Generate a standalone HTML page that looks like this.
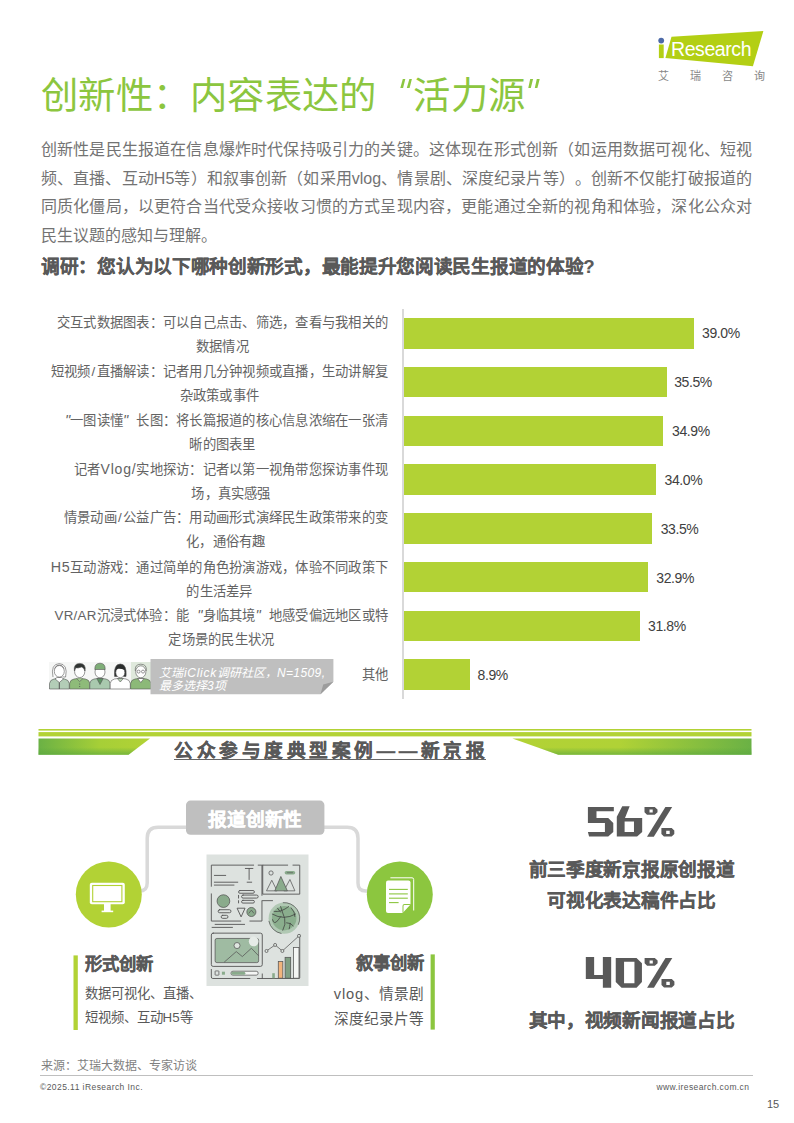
<!DOCTYPE html>
<html lang="zh-CN"><head><meta charset="utf-8">
<style>
*{margin:0;padding:0;box-sizing:border-box}
html,body{width:794px;height:1123px;background:#fff;overflow:hidden}
body{position:relative;font-family:"Liberation Sans",sans-serif;color:#595959;text-spacing-trim:space-all}
.a{position:absolute;white-space:nowrap}
.b{-webkit-text-stroke:0.28px currentColor}
#title{left:41px;top:68px;font-size:37.33px;line-height:56px;color:#8cc63f;letter-spacing:0.25px}
.para{left:41px;width:711px;font-size:16px;line-height:20px;color:#737373;text-align:justify;text-align-last:justify}
#sub{left:41px;top:254.7px;letter-spacing:-0.3px;font-size:18.67px;line-height:24px;font-weight:bold;color:#595959;-webkit-text-stroke-width:0.15px}
.lbl{right:406px;font-size:13.33px;letter-spacing:0.24px;line-height:24px;color:#636363;text-align:center}
.bar{position:absolute;left:403.6px;height:30.6px;background:#b2d235}
.val{font-size:14px;line-height:16px;color:#404040;letter-spacing:-0.4px}
.sl{padding:0 1.2px}
.ql{display:inline-block;width:1em;text-align:right;letter-spacing:0}
.qr{display:inline-block;width:1em;text-align:left;letter-spacing:0}
.ql i,.qr i{font-size:1.1em;line-height:0}
</style></head><body>

<div id="title" class="a">创新性：内容表达的<span style="display:inline-block;width:37.2px"></span>活力源</div>
<svg class="a" style="left:0;top:0" width="600" height="100"><g fill="#8cc63f"><polygon points="402.8,78.9 405.3,78.9 403.1,87.9 400.3,87.9"/><polygon points="409.4,78.9 411.9,78.9 409.6,87.9 406.8,87.9"/><polygon points="530.2,78.9 533.1,78.9 530.8,87.9 528.3,87.9"/><polygon points="536.8,78.9 539.7,78.9 537.4,87.9 534.8,87.9"/></g></svg>

<div class="a para" style="top:140.3px">创新性是民生报道在信息爆炸时代保持吸引力的关键。这体现在形式创新（如运用数据可视化、短视</div>
<div class="a para" style="top:169px">频、直播、互动H5等）和叙事创新（如采用vlog、情景剧、深度纪录片等）。创新不仅能打破报道的</div>
<div class="a para" style="top:197.2px">同质化僵局，以更符合当代受众接收习惯的方式呈现内容，更能通过全新的视角和体验，深化公众对</div>
<div class="a" style="left:41px;top:225.8px;font-size:16px;line-height:20px;color:#737373">民生议题的感知与理解。</div>

<div id="sub" class="a b">调研：您认为以下哪种创新形式，最能提升您阅读民生报道的体验?</div>

<!-- chart -->
<div class="a" style="left:402.4px;top:309px;width:1.2px;height:390px;background:#d9d9d9"></div>
<div class="bar" style="top:318.2px;width:290px"></div>
<div class="bar" style="top:366.9px;width:263.5px"></div>
<div class="bar" style="top:415.6px;width:259.2px"></div>
<div class="bar" style="top:464.3px;width:252.3px"></div>
<div class="bar" style="top:513px;width:248.5px"></div>
<div class="bar" style="top:561.8px;width:244.1px"></div>
<div class="bar" style="top:610.5px;width:236px"></div>
<div class="bar" style="top:659.2px;width:66.3px"></div>

<div class="a val" style="left:702px;top:325px">39.0%</div>
<div class="a val" style="left:674.2px;top:374px">35.5%</div>
<div class="a val" style="left:672px;top:423px">34.9%</div>
<div class="a val" style="left:664.5px;top:472px">34.0%</div>
<div class="a val" style="left:660.7px;top:520.5px">33.5%</div>
<div class="a val" style="left:656.3px;top:569.5px">32.9%</div>
<div class="a val" style="left:648px;top:618px">31.8%</div>
<div class="a val" style="left:477.5px;top:667px">8.9%</div>

<div class="a lbl" style="top:310.7px">交互式数据图表：可以自己点击、筛选，查看与我相关的<br>数据情况</div>
<div class="a lbl" style="top:359.6px">短视频<span class="sl">/</span>直播解读：记者用几分钟视频或直播，生动讲解复<br>杂政策或事件</div>
<div class="a lbl" style="top:408.5px"><span class="ql"><i>"</i></span>一图读懂<span class="qr"><i>"</i></span>长图：将长篇报道的核心信息浓缩在一张清<br>晰的图表里</div>
<div class="a lbl" style="top:457.3px">记者<span style="font-size:14px;letter-spacing:0.8px">Vlog/</span>实地探访：记者以第一视角带您探访事件现<br>场，真实感强</div>
<div class="a lbl" style="top:506.2px">情景动画<span class="sl">/</span>公益广告：用动画形式演绎民生政策带来的变<br>化，通俗有趣</div>
<div class="a lbl" style="top:555px"><span style="font-size:14.3px;letter-spacing:0.6px">H5</span>互动游戏：通过简单的角色扮演游戏，体验不同政策下<br>的生活差异</div>
<div class="a lbl" style="top:603.9px">VR/AR沉浸式体验：能<span class="ql"><i>"</i></span>身临其境<span class="qr"><i>"</i></span>地感受偏远地区或特<br>定场景的民生状况</div>
<div class="a lbl" style="top:663px">其他</div>



<!-- people + callout -->
<svg class="a" style="left:44px;top:655px" width="300" height="45" viewBox="44 655 300 45">
<rect x="49" y="662" width="102" height="27" fill="#f6f7f6"/>
<rect x="131" y="662" width="20" height="27" fill="#dfe9dc"/>
<g stroke="#555" stroke-width="0.6">
<!-- p1 old woman -->
<path d="M49.5,689 V683.5 Q50,679.8 54,679 L59.3,678.2 L64.6,679 Q68.8,679.8 69.3,683.5 V689 Z" fill="#b3cdb7"/>
<path d="M55,678.8 L59.3,682.5 L63.6,678.8 L61.5,677.5 L57.1,677.5 Z" fill="#fff"/>
<line x1="59.3" y1="682.5" x2="59.3" y2="689" stroke-width="1"/>
<path d="M53,677 Q50.5,664 59.3,663.6 Q68.1,664 65.6,677 Q63.5,677.5 62.5,676" fill="#fff"/>
<ellipse cx="59.3" cy="671.3" rx="5" ry="5.8" fill="#fff"/>
<path d="M54.5,668.5 Q56,665 59.3,665 Q62.6,665 64.1,668.5" fill="none"/>
<!-- p2 man -->
<path d="M69.6,689 V683.5 Q70,679.8 74,679 L79.7,678.2 L85.4,679 Q89.4,679.8 89.8,683.5 V689 Z" fill="#8ebb79"/>
<path d="M76.5,678.5 L79.7,681.5 L82.9,678.5" fill="#a5cc92"/>
<g fill="#555" stroke="none"><circle cx="79.7" cy="684" r="0.6"/><circle cx="79.7" cy="686.5" r="0.6"/></g>
<ellipse cx="79.7" cy="671.6" rx="5.1" ry="6" fill="#fff"/>
<path d="M74.4,671 Q73.2,663.6 79.7,663.4 Q86.4,663.6 85,671 Q84,667.5 81.5,667 Q78,668.5 75.5,667.8 Z" fill="#2f3432"/>
<!-- p3 cap man -->
<path d="M89.8,689 V683.5 Q90.2,679.8 94,679 L100,678.2 L106,679 Q109.8,679.8 110.2,683.5 V689 Z" fill="#a9c9ae"/>
<path d="M96.8,678.5 L100,684.5 L103.2,678.5 Z" fill="#5f9466"/>
<ellipse cx="100" cy="672" rx="5" ry="5.8" fill="#fff"/>
<path d="M94.8,669.5 Q94.6,663.2 100,663.2 Q105.4,663.2 105.2,669.5 Z" fill="#7fae78"/>
<!-- p4 woman doctor -->
<path d="M110.2,689 V683.5 Q110.6,679.8 114.5,679 L120.3,678.2 L126,679 Q129.9,679.8 130.3,683.5 V689 Z" fill="#fff"/>
<path d="M117.3,678.5 L120.3,682 L123.3,678.5 Z" fill="#b7d3b4"/>
<path d="M114.6,676.5 Q113.5,664 120.3,664 Q127.1,664 126,676.5 Z" fill="#2a2d2c"/>
<ellipse cx="120.3" cy="672.5" rx="4.5" ry="5.2" fill="#fff"/>
<path d="M115.6,670 Q116.5,665.8 120.3,665.8 Q124.1,665.8 125,670 Q121,668.5 118,668.8 Z" fill="#2a2d2c" stroke="none"/>
<!-- p5 old man -->
<path d="M130.6,689 V683.5 Q131,679.8 135,679 L140.8,678.2 L146.6,679 Q150.6,679.8 151,683.5 V689 Z" fill="#8cb978"/>
<path d="M137.6,678.5 L140.8,682.5 L144,678.5 Z" fill="#fff"/>
<ellipse cx="140.8" cy="671.8" rx="5.1" ry="6" fill="#fff"/>
<path d="M135.3,671 Q134.5,664.2 140.8,664.2 Q147.1,664.2 146.3,671" fill="none"/>
<circle cx="138.6" cy="671.6" r="1.5" fill="none"/><circle cx="143" cy="671.6" r="1.5" fill="none"/>
</g>
<polygon points="150.5,659 333.4,659 333.4,681.7 320.5,694.3 150.5,694.3" fill="#bfbfbf"/>
<polygon points="333.4,681.7 323.2,684.5 320.5,694.3" fill="#9c9c9c"/>
</svg>
<div class="a" style="left:159px;top:666.5px;font-size:12px;line-height:13.3px;color:#fff;font-style:italic">艾瑞<span style="letter-spacing:0.7px;margin-left:1px">iClick</span>调研社区，<span style="letter-spacing:0.4px">N=1509,</span><br>最多选择3项</div>

<!-- logo -->
<svg class="a" style="left:0;top:0" width="794" height="100" viewBox="0 0 794 100">
<circle cx="661.2" cy="40.6" r="2.9" fill="#4d6aa8"/>
<rect x="658.9" y="44.5" width="4.8" height="13.6" fill="#b3cf14"/>
<polygon points="671.5,36.8 763.4,30.9 752.9,66.2 665.4,57.9" fill="#b3cf14"/>
<text x="671" y="55.8" font-family="Liberation Sans" font-size="19.5" fill="#fff" letter-spacing="-0.42">Research</text>
</svg>
<div class="a" style="left:658px;top:69px;font-size:11px;line-height:14px;color:#888;letter-spacing:20.9px">艾瑞咨询</div>

<!-- banner -->
<svg class="a" style="left:0;top:720px" width="794" height="50" viewBox="0 720 794 50">
<defs>
<linearGradient id="gl" x1="38" y1="0" x2="150" y2="0" gradientUnits="userSpaceOnUse">
<stop offset="0" stop-color="#6ab145"/><stop offset="0.55" stop-color="#a6cf37"/><stop offset="1" stop-color="#b2d235"/></linearGradient>
<linearGradient id="gr" x1="512" y1="0" x2="752" y2="0" gradientUnits="userSpaceOnUse">
<stop offset="0" stop-color="#b2d235"/><stop offset="0.45" stop-color="#b0d236"/><stop offset="1" stop-color="#6ab145"/></linearGradient>
<linearGradient id="gv" x1="0" y1="738" x2="0" y2="755" gradientUnits="userSpaceOnUse">
<stop offset="0" stop-color="#5aa83f" stop-opacity="0"/><stop offset="0.55" stop-color="#5aa83f" stop-opacity="0"/><stop offset="1" stop-color="#5aa83f" stop-opacity="0.7"/></linearGradient>
</defs>
<rect x="38.5" y="729" width="713" height="1.6" fill="#b2d235"/>
<rect x="38.5" y="732.1" width="713" height="4.3" fill="#b2d235"/>
<polygon points="38.5,738.4 150,738.4 128.5,754.8 38.5,754.8" fill="url(#gl)"/>
<polygon points="38.5,738.4 150,738.4 128.5,754.8 38.5,754.8" fill="url(#gv)"/>
<polygon points="512.4,738.5 751.5,738.5 751.5,754.7 558.3,754.7" fill="url(#gr)"/>
<polygon points="512.4,738.5 751.5,738.5 751.5,754.7 558.3,754.7" fill="url(#gv)"/>
</svg>
<div class="a b" style="left:174px;top:738.5px;font-size:18.67px;line-height:24px;font-weight:bold;color:#595959;letter-spacing:3.5px">公众参与度典型案例——新京报</div>
<div class="a" style="left:174px;top:759.1px;width:311.7px;height:1.3px;background:#666"></div>

<!-- bottom diagram -->
<svg class="a" style="left:0;top:790px" width="794" height="260" viewBox="0 790 794 260">
<path d="M186,827.2 H158.2 Q147.2,827.2 147.2,838.2 V883 Q147.2,891 139.5,891" fill="none" stroke="#d9d9d9" stroke-width="3.5"/>
<path d="M324,827.2 H347 Q358,827.2 358,838.2 V883 Q358,891 365.7,891 H368" fill="none" stroke="#d9d9d9" stroke-width="3.5"/>
<rect x="186" y="800.6" width="138.4" height="34.1" rx="4.5" fill="#bfbfbf"/>
<circle cx="108.8" cy="894.5" r="33" fill="#b2d235"/>
<circle cx="399.8" cy="894.5" r="33" fill="#8cc63f"/>
<!-- monitor -->
<rect x="89.8" y="882.8" width="35" height="21.4" rx="2" fill="#fff"/>
<rect x="92.7" y="885.5" width="29.2" height="16.2" fill="none" stroke="#b2d235" stroke-width="1.1"/>
<rect x="104" y="904" width="6.6" height="7" fill="#fff"/>
<rect x="101.6" y="910.6" width="11.6" height="1.6" fill="#fff"/>
<!-- document -->
<path d="M390.4,877.8 H412 Q413.7,877.8 413.7,879.5 V910.5" fill="none" stroke="#fff" stroke-width="1"/>
<path d="M386,882.6 Q386,880.6 388,880.6 H408.5 Q410.5,880.6 410.5,882.6 V904 L402.5,913 H388 Q386,913 386,911 Z" fill="#fff"/>
<path d="M402.5,913 V906 Q402.5,904 404.5,904 H410.5 Z" fill="#8cc63f"/>
<path d="M403.5,912 L410,905 H404.5 Q403.5,905 403.5,906 Z" fill="#fff"/>
<g stroke="#8cc63f" stroke-width="1.1"><line x1="389" y1="889.4" x2="407.8" y2="889.4"/><line x1="389" y1="893.9" x2="407.8" y2="893.9"/><line x1="389" y1="898.2" x2="407.8" y2="898.2"/><line x1="389" y1="902.6" x2="398.6" y2="902.6"/></g>
<!-- illustration -->
<rect x="206.5" y="854.5" width="102" height="131.5" fill="#dde2df"/>
<rect x="73.5" y="955.4" width="4.3" height="74.6" fill="#b2d235"/>
<rect x="430.6" y="954.4" width="4.2" height="75.2" fill="#8cc63f"/>
</svg>
<div class="a b" style="left:186px;top:806.5px;width:138.4px;text-align:center;font-size:18.67px;line-height:26px;font-weight:bold;color:#fff;letter-spacing:-0.3px">报道创新性</div>

<div class="a b" style="left:84.5px;top:951.5px;font-size:17.33px;line-height:24px;font-weight:bold;color:#595959">形式创新</div>
<div class="a" style="left:84.5px;top:982px;font-size:13.33px;line-height:23.5px;color:#595959">数据可视化、直播、<br>短视频、互动H5等</div>
<div class="a b" style="right:370px;top:950.5px;font-size:17.33px;line-height:24px;font-weight:bold;color:#595959;text-align:right">叙事创新</div>
<div class="a" style="right:370px;top:981.5px;font-size:14.67px;line-height:25.5px;color:#595959;text-align:right"><span style="letter-spacing:0.85px">vlog</span>、情景剧<br>深度纪录片等</div>

<div class="a b" style="left:481.5px;width:300px;top:854px;text-align:center;font-size:18.67px;line-height:31px;font-weight:bold;color:#595959;letter-spacing:-0.3px">前三季度新京报原创报道<br>可视化表达稿件占比</div>
<div class="a b" style="left:481.5px;width:300px;top:1005px;text-align:center;font-size:18.67px;line-height:31px;font-weight:bold;color:#595959;letter-spacing:-0.3px">其中，视频新闻报道占比</div>


<!-- big numbers -->
<svg class="a" style="left:0;top:790px" width="794" height="210" viewBox="0 790 794 210">
<g fill="#595959" fill-rule="evenodd">
<g transform="translate(584,802) scale(0.07809,0.078125)">
<polygon points="50,65 382,65 382,118 160,118 160,205 310,205 375,270 375,385 310,440 65,440 50,385 268,385 268,270 50,270"/>
<path d="M490,55 L585,55 L525,205 L745,205 L745,385 L680,440 L420,440 L420,190 Z M520,250 L640,250 L640,385 L520,385 Z"/>
</g>
<g transform="translate(580,950) scale(0.08313,0.0832)">
<polygon points="70,85 170,85 170,300 275,300 275,85 375,85 375,455 275,455 275,350 70,350"/>
<path d="M430,95 L680,95 L745,160 L745,385 L680,455 L500,455 L430,385 Z M530,140 L655,140 L655,400 L530,400 Z"/>
</g>
<g id="pct" transform="translate(644.5,807)">
<path d="M0,0 L10.2,0 L13,2.6 L13,5.2 L10.2,7.8 L2.5,7.8 L0,5.3 Z M5,2.6 L8.2,2.6 L8.2,5.6 L5,5.6 Z"/>
<polygon points="20.9,0 27.7,0 9.3,29.7 2.5,29.7"/>
<path d="M16.9,21 L27.2,21 L29.8,23.6 L29.8,27 L27.2,29.6 L19.4,29.6 L16.9,27.1 Z M21.7,23.8 L25.2,23.8 L25.2,27.1 L21.7,27.1 Z"/>
</g>
<use href="#pct" transform="translate(0.1,151)"/>
</g>
</svg>

<!-- illustration -->
<svg class="a" style="left:200px;top:850px" width="120" height="140" viewBox="0 0 794 926">
<g fill="none" stroke="#555" stroke-width="6" stroke-linecap="round">
<path d="M75,240 V100 H355 M385,100 H410 V300 M410,340 V470 H330 M270,470 H75 V290"/>
<path d="M415,100 H580 M615,100 H660 V292 H415 V100"/>
<line x1="95" y1="168" x2="170" y2="168"/>
<line x1="95" y1="213" x2="250" y2="213"/><line x1="95" y1="232" x2="225" y2="232"/>
<line x1="325" y1="122" x2="325" y2="195"/><line x1="300" y1="122" x2="350" y2="122"/><line x1="312" y1="213" x2="342" y2="213"/>
<rect x="255" y="268" width="105" height="18" rx="9"/>
<rect x="275" y="298" width="110" height="20" rx="10"/>
<rect x="275" y="333" width="85" height="18" rx="9"/>
<line x1="255" y1="300" x2="255" y2="318"/><line x1="255" y1="335" x2="255" y2="350"/>
<rect x="120" y="395" width="85" height="20" rx="10"/>
<rect x="140" y="432" width="45" height="20" rx="10"/>
<path d="M248,385 H298 L273,440 Z"/>
<line x1="100" y1="492" x2="295" y2="492"/><line x1="80" y1="512" x2="215" y2="512"/>
<line x1="410" y1="335" x2="480" y2="335"/>
<rect x="75" y="550" width="337" height="220" rx="12"/>
<path d="M75,790 V840 Q75,850 85,850 H330 M380,850 H655 Q660,850 660,845 V560"/>
<line x1="412" y1="820" x2="412" y2="849"/>
</g>
<circle cx="470" cy="152" r="14" fill="none" stroke="#555" stroke-width="5"/>
<rect x="560" y="138" width="70" height="24" rx="12" fill="#8aab8c"/>
<line x1="575" y1="150" x2="615" y2="150" stroke="#555" stroke-width="4"/>
<path d="M440,270 L475,200 L510,270 Z M555,270 L595,195 L628,270 Z" fill="none" stroke="#555" stroke-width="5"/>
<path d="M495,270 L535,175 L578,270 Z" fill="#8aab8c" stroke="#555" stroke-width="5"/>
<circle cx="155" cy="338" r="42" fill="#8aab8c" stroke="#555" stroke-width="5"/>
<circle cx="340" cy="410" r="30" fill="#8aab8c" stroke="#555" stroke-width="5"/>
<path d="M322,420 L340,398 L358,420" fill="none" stroke="#555" stroke-width="5"/>
<circle cx="557" cy="451" r="103" fill="#b0c8b3"/>
<circle cx="557" cy="451" r="81" fill="#8aae8d"/>
<path d="M548,348.4 A103,103 0 0 1 650.3,494.5 M539.1,552.4 A103,103 0 0 1 455.6,468.9" fill="none" stroke="#444" stroke-width="4.5"/>
<g fill="none" stroke="#3d3d3d" stroke-width="5" stroke-linecap="round">
<path d="M478.5,424 Q555,468 631.8,424"/>
<path d="M490,406 Q535,415 586.8,374"/>
<path d="M533.5,374 Q548,420 560,452 Q570,490 548,531"/>
<path d="M480,461 Q490,500 518,462 Q528,448 535,440"/>
<path d="M573,481 Q600,480 617,502 M597,485 Q594,510 590,522"/>
<path d="M513,385 L533,411"/>
<path d="M603,382 Q630,410 628,440"/>
</g>
<rect x="100" y="585" width="288" height="160" rx="12" fill="#9fbba2" stroke="#555" stroke-width="5"/>
<circle cx="355" cy="605" r="32" fill="#e6ebe7"/>
<circle cx="245" cy="632" r="20" fill="#dfe6e0" stroke="#555" stroke-width="5"/>
<path d="M160,742 L240,672 L280,705 L340,650 L388,700" fill="none" stroke="#555" stroke-width="5"/>
<path d="M440,668 L497,628 L545,668 L655,568" fill="none" stroke="#555" stroke-width="5"/>
<g fill="#dfe6e0" stroke="#555" stroke-width="5"><circle cx="440" cy="668" r="10"/><circle cx="497" cy="628" r="10"/><circle cx="545" cy="668" r="10"/><circle cx="655" cy="568" r="10"/></g>
<rect x="478" y="815" width="17" height="33" fill="#8aab8c"/>
<rect x="518" y="738" width="30" height="110" fill="#f2b47c" stroke="#555" stroke-width="5"/>
<rect x="563" y="710" width="37" height="138" fill="#7f9f82" stroke="#555" stroke-width="5"/>
<rect x="618" y="645" width="37" height="203" fill="#f4f6f4" stroke="#555" stroke-width="5"/>
<rect x="100" y="800" width="25" height="28" rx="3" fill="none" stroke="#555" stroke-width="5"/>
<rect x="145" y="805" width="20" height="20" fill="#8aab8c"/>
<rect x="205" y="802" width="180" height="26" rx="13" fill="#f4f6f4" stroke="#555" stroke-width="5"/>
<rect x="208" y="805" width="92" height="20" rx="10" fill="#8aab8c"/>
</svg>

<!-- footer -->
<div class="a" style="left:41px;top:1057px;font-size:12px;line-height:18px;color:#7f7f7f">来源：艾瑞大数据、专家访谈</div>
<div class="a" style="left:40px;top:1074.5px;width:712.7px;height:1px;background:#bfbfbf"></div>
<div class="a" style="left:40px;top:1081.7px;font-size:8.5px;line-height:10px;color:#595959;letter-spacing:0.43px">©2025.11 iResearch Inc.</div>
<div class="a" style="right:44.6px;top:1082px;font-size:8.5px;line-height:10px;color:#595959;letter-spacing:0.4px">www.iresearch.com.cn</div>
<div class="a" style="left:767px;top:1097px;font-size:11px;line-height:14px;color:#595959">15</div>
</body></html>
